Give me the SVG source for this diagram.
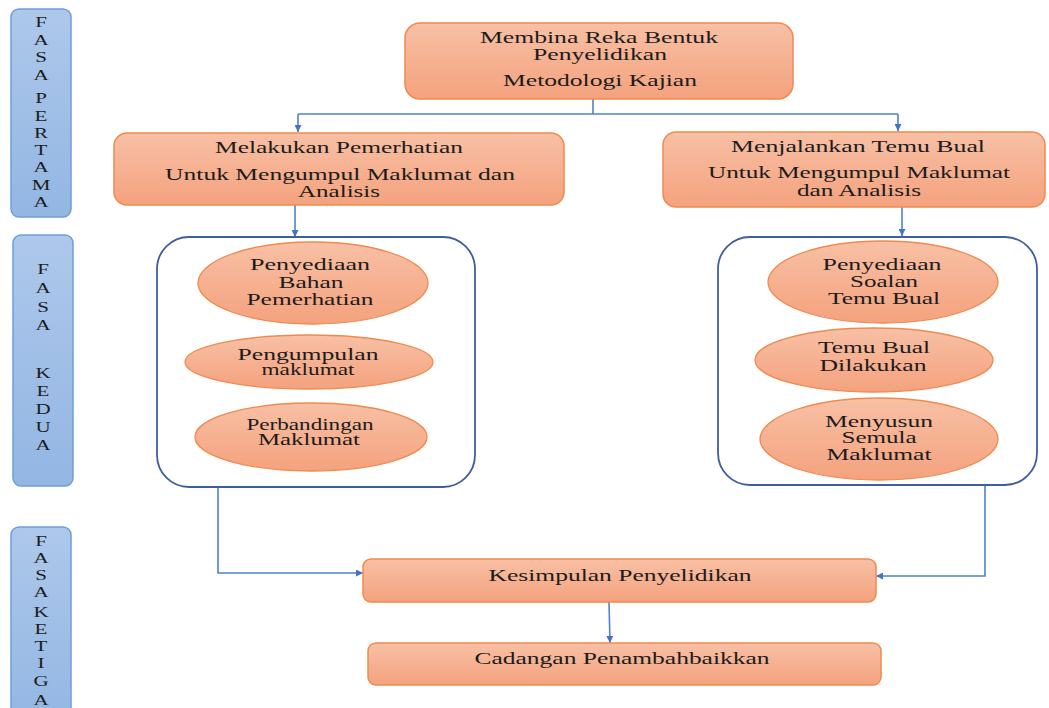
<svg xmlns="http://www.w3.org/2000/svg" width="1049" height="708" viewBox="0 0 1049 708">
<style>
.box{stroke:#f08a4d;stroke-width:1.5;fill:url(#og)}
.ell{stroke:#f08a4d;stroke-width:1.3;fill:url(#og)}
.bar{stroke:#6f9fd8;stroke-width:1.5;fill:url(#bg)}
.cont{fill:#fff;stroke:#3f5f9c;stroke-width:1.8}
.t{font-family:"Liberation Serif","Times New Roman",serif;font-size:16px;fill:#1c1c1c;text-anchor:middle}
.l{font-family:"Liberation Serif","Times New Roman",serif;font-size:14.5px;fill:#1c1c1c;text-anchor:middle}
.c{fill:none;stroke:#4f81d0;stroke-width:1.6}
</style>
<defs>
<linearGradient id="og" x1="0" y1="0" x2="0" y2="1">
<stop offset="0" stop-color="#f8c0a5"/>
<stop offset="1" stop-color="#f4a27e"/>
</linearGradient>
<linearGradient id="bg" x1="0" y1="0" x2="0" y2="1">
<stop offset="0" stop-color="#adc8eb"/>
<stop offset="1" stop-color="#93b6e3"/>
</linearGradient>
<marker id="ah" viewBox="0 0 10 10" refX="10" refY="5" markerWidth="7" markerHeight="7" markerUnits="userSpaceOnUse" orient="auto">
<path d="M0,0 L10,5 L0,10 z" fill="#4472c4"/>
</marker>
</defs>
<rect width="1049" height="708" fill="#fff"/>

<g id="fasa-pertama">
<rect class="bar" x="11" y="9" width="60" height="208" rx="8"/>
<g transform="matrix(1.45,0,0,1,41,0)">
<text class="l" y="27.5">F</text>
<text class="l" y="45">A</text>
<text class="l" y="62.5">S</text>
<text class="l" y="80">A</text>
<text class="l" y="103.5">P</text>
<text class="l" y="121">E</text>
<text class="l" y="138.5">R</text>
<text class="l" y="155.5">T</text>
<text class="l" y="172.5">A</text>
<text class="l" y="190">M</text>
<text class="l" y="207.5">A</text>
</g>
</g>

<g id="fasa-kedua">
<rect class="bar" x="13" y="235" width="60" height="251" rx="8"/>
<g transform="matrix(1.45,0,0,1,43,0)">
<text class="l" y="274">F</text>
<text class="l" y="293">A</text>
<text class="l" y="312">S</text>
<text class="l" y="330">A</text>
<text class="l" y="378">K</text>
<text class="l" y="396">E</text>
<text class="l" y="414">D</text>
<text class="l" y="432">U</text>
<text class="l" y="450">A</text>
</g>
</g>

<g id="fasa-ketiga">
<rect class="bar" x="11" y="527" width="60" height="200" rx="8"/>
<g transform="matrix(1.45,0,0,1,41,0)">
<text class="l" y="546">F</text>
<text class="l" y="563">A</text>
<text class="l" y="580">S</text>
<text class="l" y="597">A</text>
<text class="l" y="617">K</text>
<text class="l" y="634">E</text>
<text class="l" y="651">T</text>
<text class="l" y="668">I</text>
<text class="l" y="686">G</text>
<text class="l" y="705">A</text>
</g>
</g>

<g id="connectors">
<path class="c" d="M593,99 V114"/>
<path class="c" d="M298,114 H898"/>
<path class="c" d="M298,114 V132" marker-end="url(#ah)"/>
<path class="c" d="M898,114 V131" marker-end="url(#ah)"/>
<path class="c" d="M295,205 V237" marker-end="url(#ah)"/>
<path class="c" d="M902,207 V236" marker-end="url(#ah)"/>
<path class="c" d="M218,487 V573 H363" marker-end="url(#ah)"/>
<path class="c" d="M985,485 V576 H876" marker-end="url(#ah)"/>
<path class="c" d="M609,602 L610,643" marker-end="url(#ah)"/>
</g>

<g id="membina">
<rect class="box" x="405" y="23" width="388" height="76" rx="15"/>
<text class="t" transform="matrix(1.5,0,0,1,599,43)" textLength="158.7" lengthAdjust="spacingAndGlyphs">Membina Reka Bentuk</text>
<text class="t" transform="matrix(1.5,0,0,1,600,60)" textLength="89.3" lengthAdjust="spacingAndGlyphs">Penyelidikan</text>
<text class="t" transform="matrix(1.5,0,0,1,600,86)" textLength="129.3" lengthAdjust="spacingAndGlyphs">Metodologi Kajian</text>
</g>

<g id="pemerhatian">
<rect class="box" x="114" y="133" width="450" height="72" rx="13"/>
<text class="t" transform="matrix(1.5,0,0,1,339,153)" textLength="165.3" lengthAdjust="spacingAndGlyphs">Melakukan Pemerhatian</text>
<text class="t" transform="matrix(1.5,0,0,1,340,180)" textLength="233.3" lengthAdjust="spacingAndGlyphs">Untuk Mengumpul Maklumat dan</text>
<text class="t" transform="matrix(1.5,0,0,1,339,197)" textLength="54.7" lengthAdjust="spacingAndGlyphs">Analisis</text>
</g>

<g id="temu-bual">
<rect class="box" x="663" y="132" width="382" height="75" rx="13"/>
<text class="t" transform="matrix(1.5,0,0,1,858,152)" textLength="169.3" lengthAdjust="spacingAndGlyphs">Menjalankan Temu Bual</text>
<text class="t" transform="matrix(1.5,0,0,1,859,178)" textLength="201.3" lengthAdjust="spacingAndGlyphs">Untuk Mengumpul Maklumat</text>
<text class="t" transform="matrix(1.5,0,0,1,859,196)" textLength="82.7" lengthAdjust="spacingAndGlyphs">dan Analisis</text>
</g>

<g id="kumpulan-pemerhatian">
<rect class="cont" x="157" y="237" width="318" height="250" rx="32"/>
<g id="penyediaan-bahan">
<ellipse class="ell" cx="313" cy="283" rx="115" ry="41"/>
<text class="t" transform="matrix(1.5,0,0,1,310,270)" textLength="80" lengthAdjust="spacingAndGlyphs">Penyediaan</text>
<text class="t" transform="matrix(1.5,0,0,1,311,288)" textLength="43.3" lengthAdjust="spacingAndGlyphs">Bahan</text>
<text class="t" transform="matrix(1.5,0,0,1,310,305)" textLength="84.7" lengthAdjust="spacingAndGlyphs">Pemerhatian</text>
</g>
<g id="pengumpulan">
<ellipse class="ell" cx="309" cy="362" rx="124" ry="27"/>
<text class="t" transform="matrix(1.5,0,0,1,308,360)" textLength="94" lengthAdjust="spacingAndGlyphs">Pengumpulan</text>
<text class="t" transform="matrix(1.5,0,0,1,308,375)" textLength="62" lengthAdjust="spacingAndGlyphs">maklumat</text>
</g>
<g id="perbandingan">
<ellipse class="ell" cx="311" cy="437" rx="116" ry="34"/>
<text class="t" transform="matrix(1.5,0,0,1,310,430)" textLength="84.7" lengthAdjust="spacingAndGlyphs">Perbandingan</text>
<text class="t" transform="matrix(1.5,0,0,1,309,445)" textLength="68" lengthAdjust="spacingAndGlyphs">Maklumat</text>
</g>
</g>

<g id="kumpulan-temu-bual">
<rect class="cont" x="718" y="237" width="319" height="248" rx="32"/>
<g id="penyediaan-soalan">
<ellipse class="ell" cx="883" cy="282" rx="115" ry="41"/>
<text class="t" transform="matrix(1.5,0,0,1,882,270)" textLength="79.3" lengthAdjust="spacingAndGlyphs">Penyediaan</text>
<text class="t" transform="matrix(1.5,0,0,1,884,287)" textLength="45.3" lengthAdjust="spacingAndGlyphs">Soalan</text>
<text class="t" transform="matrix(1.5,0,0,1,884,304)" textLength="74.7" lengthAdjust="spacingAndGlyphs">Temu Bual</text>
</g>
<g id="temu-bual-dilakukan">
<ellipse class="ell" cx="874" cy="360" rx="119" ry="32"/>
<text class="t" transform="matrix(1.5,0,0,1,874,353)" textLength="74.7" lengthAdjust="spacingAndGlyphs">Temu Bual</text>
<text class="t" transform="matrix(1.5,0,0,1,873,371)" textLength="71.3" lengthAdjust="spacingAndGlyphs">Dilakukan</text>
</g>
<g id="menyusun-semula">
<ellipse class="ell" cx="879" cy="439" rx="119" ry="41"/>
<text class="t" transform="matrix(1.5,0,0,1,879,427)" textLength="72" lengthAdjust="spacingAndGlyphs">Menyusun</text>
<text class="t" transform="matrix(1.5,0,0,1,879,443)" textLength="50" lengthAdjust="spacingAndGlyphs">Semula</text>
<text class="t" transform="matrix(1.5,0,0,1,879,460)" textLength="70" lengthAdjust="spacingAndGlyphs">Maklumat</text>
</g>
</g>

<g id="kesimpulan">
<rect class="box" x="363" y="559" width="513" height="43" rx="8"/>
<text class="t" transform="matrix(1.5,0,0,1,620,580.5)" textLength="175.3" lengthAdjust="spacingAndGlyphs">Kesimpulan Penyelidikan</text>
</g>

<g id="cadangan">
<rect class="box" x="368" y="643" width="513" height="42" rx="8"/>
<text class="t" transform="matrix(1.5,0,0,1,622,663.5)" textLength="196.7" lengthAdjust="spacingAndGlyphs">Cadangan Penambahbaikkan</text>
</g>
</svg>
